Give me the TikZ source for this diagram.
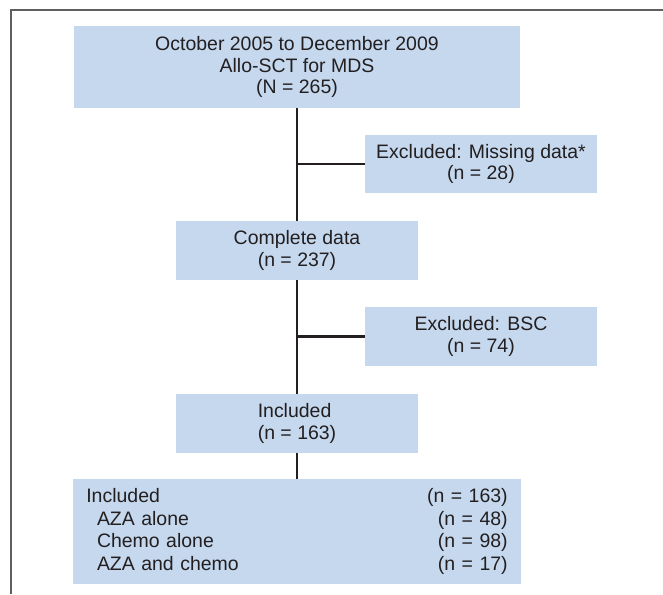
\documentclass[tikz,border=0pt]{standalone}
\usepackage{fontspec}
\setmainfont{Liberation Sans}
\definecolor{boxblue}{RGB}{197,216,238}
\definecolor{ink}{RGB}{35,31,32}
\definecolor{framegray}{RGB}{95,95,95}
\begin{document}
\begin{tikzpicture}[x=0.75pt,y=-0.75pt,
    box/.style={fill=boxblue, text=ink, inner sep=0pt, align=center,
      font=\fontsize{14.6}{16.2}\selectfont},
    link/.style={draw=ink, line width=1.6pt}]
  \useasboundingbox (0,0) rectangle (663,594);
  \draw[framegray, line width=1.4pt] (663,10) -- (11,10) -- (11,594);
  \node[box, minimum width=335pt, minimum height=61.5pt] (start) at (297,67)
    {October 2005 to December 2009\\Allo-SCT for MDS\\(N = 265)};
  \node[box, minimum width=174pt, minimum height=43.5pt] (missing) at (481,164)
    {Excluded: Missing data*\\(n = 28)};
  \node[box, minimum width=181.5pt, minimum height=44.25pt] (complete) at (297,250.5)
    {Complete data\\(n = 237)};
  \node[box, minimum width=174pt, minimum height=44.25pt] (bsc) at (481,336.5)
    {Excluded: BSC\\(n = 74)};
  \node[box, align=left, minimum width=181.5pt, minimum height=44.25pt] (included) at (297,423.5)
    {Included\\(n = 163)};
  \node[box, align=left, text width=316pt, minimum width=336pt, minimum height=78.75pt,
    font=\fontsize{14.6}{16.9}\selectfont] (groups) at (297,531.5)
    {Included\hfill(n = 163)\\
     \hspace*{8pt}AZA alone\hfill(n = 48)\\
     \hspace*{8pt}Chemo alone\hfill(n = 98)\\
     \hspace*{8pt}AZA and chemo\hfill(n = 17)};
  \draw[link] (start.south) -- (complete.north);
  \draw[link] (complete.south) -- (included.north);
  \draw[link] (included.south) -- (groups.north);
  \draw[link] (start.south |- missing.west) -- (missing.west);
  \draw[link] (complete.south |- bsc.west) -- (bsc.west);
\end{tikzpicture}
\end{document}
